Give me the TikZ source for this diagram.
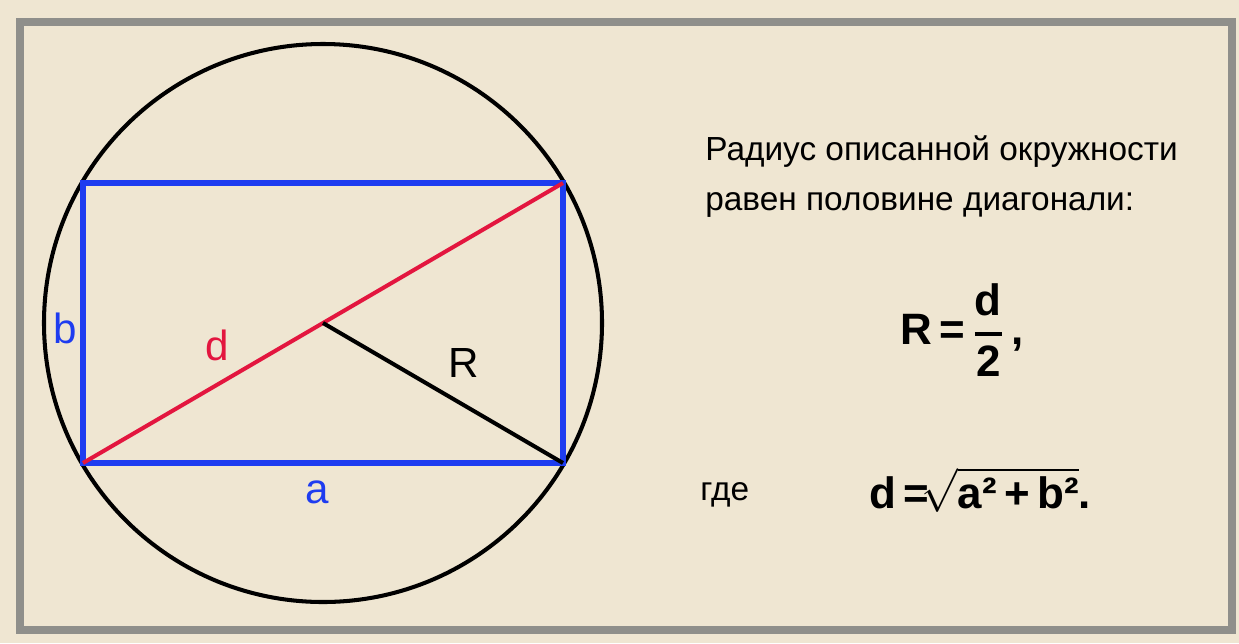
\documentclass[tikz,border=0pt]{standalone}
\usepackage{amsmath}
\usepackage{fontspec}
\setmainfont{Liberation Sans}
\usetikzlibrary{positioning}

\definecolor{paper}{HTML}{EFE6D2}
\definecolor{framegray}{HTML}{8F8F8B}
\definecolor{sideblue}{HTML}{1E3CF0}
\definecolor{diagred}{HTML}{E3163F}

\begin{document}
\begin{tikzpicture}[x=0.02cm, y=-0.02cm,
    side/.style={draw=sideblue, line width=3.4pt},
    diag/.style={draw=diagred, line width=2.3pt},
    lbl/.style={font=\fontsize{24}{28}\selectfont, inner sep=0pt},
    txt/.style={font=\fontsize{19}{23}\selectfont, inner sep=0pt, anchor=base west},
    frm/.style={font=\fontsize{25}{30}\selectfont\bfseries, inner sep=0pt}]
    % background and frame
    \fill[paper] (0,0) rectangle (1239,643);
    \draw[framegray, line width=4.5pt] (20,22) rectangle (1232,630);

    % rectangle corners and centre
    \coordinate (A) at (83,463);
    \coordinate (B) at (563,463);
    \coordinate (C) at (563,183);
    \coordinate (D) at (83,183);
    \coordinate (O) at (323,323);

    \draw[line width=2.3pt] (O) circle [radius=279];
    \draw[side] (A) -- (B) -- (C) -- (D) -- cycle;
    \draw[diag] (A) -- (C);
    \draw[line width=2.3pt] (O) -- (B);

    \node[lbl, text=sideblue] (b) at (65,328) {b};
    \node[lbl, text=sideblue] (a) at (317,492) {a};
    \node[lbl, text=diagred] (d) at (217,345) {d};
    \node[lbl] (R) at (464,363) {R};

    % text on the right
    \node[txt] (line1) at (705,160) {Радиус описанной окружности};
    \node[txt] (line2) at (705,210) {равен половине диагонали:};
    \node[frm] (rform) at (962,330) {R\,=\,$\genfrac{}{}{2pt}{0}{\text{\bfseries d}}{\text{\bfseries 2}}$\,,};
    \node[txt] (gde) at (700,500) {где};
    \node[frm] (dform) at (980,490) {d\,=$\!\sqrt{\text{\bfseries a²\,+\,b²}}$.};
\end{tikzpicture}
\end{document}
